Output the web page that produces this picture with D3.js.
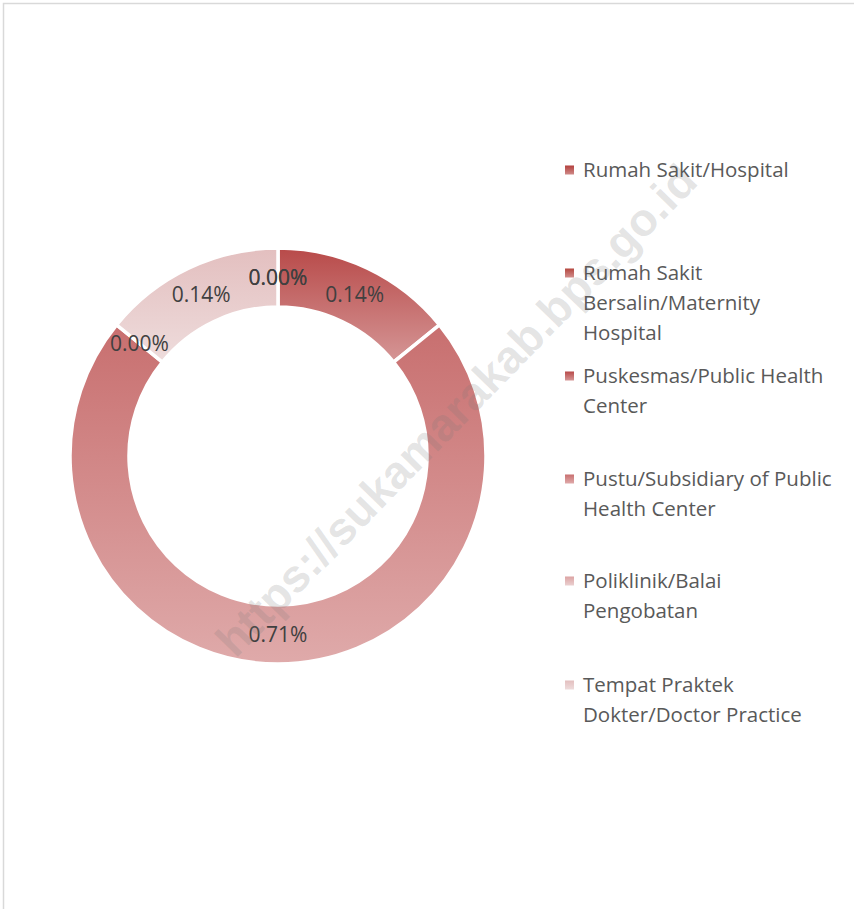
<!DOCTYPE html>
<html>
<head>
<meta charset="utf-8">
<script src="https://cdn.jsdelivr.net/npm/d3@7"></script>
<style>
  body { margin: 0; background: #fff; }
  svg { display: block; }
  text { font-family: "Open Sans", sans-serif; }
</style>
</head>
<body>
<svg id="chart" width="854" height="909"></svg>
<script>
// categories and their share (shown as % labels)
const categories = [
    ['Rumah Sakit/Hospital'],
    ['Rumah Sakit', 'Bersalin/Maternity', 'Hospital'],
    ['Puskesmas/Public Health', 'Center'],
    ['Pustu/Subsidiary of Public', 'Health Center'],
    ['Poliklinik/Balai', 'Pengobatan'],
    ['Tempat Praktek', 'Dokter/Doctor Practice']
];
const values = [0.00, 0.00, 0.14, 0.71, 0.00, 0.14];
const labels = ['0.00%', '0.00%', '0.14%', '0.71%', '0.00%', '0.14%'];

// gradient stops per slice (top -> bottom)
const topColors = ['#b3403d', '#b5473f', '#b84a49', '#c86f6f', '#dca3a3', '#e3bfbf'];
const bottomColors = ['#cf8a88', '#d18e8c', '#d59696', '#dfaaaa', '#ead0d0', '#eedcdc'];

const svg = d3.select('#chart');
const W = 854, H = 909;
const cx = 278, cy = 456, rOuter = 208, rInner = 149;

// chart frame (only top/left edges visible)
svg.append('path')
    .attr('d', `M 3.5 ${H} L 3.5 3.5 L ${W} 3.5`)
    .attr('fill', 'none')
    .attr('stroke', '#d9d9d9')
    .attr('stroke-width', 1.5);

const defs = svg.append('defs');
values.forEach((v, i) => {
    const g = defs.append('linearGradient')
        .attr('id', `grad${i}`)
        .attr('x1', 0).attr('y1', 0).attr('x2', 0).attr('y2', 1);
    g.append('stop').attr('offset', '0%').attr('stop-color', topColors[i]);
    g.append('stop').attr('offset', '100%').attr('stop-color', bottomColors[i]);
});

const pie = d3.pie().sort(null).value(d => d);
const arcs = pie(values);
const arc = d3.arc().innerRadius(rInner).outerRadius(rOuter);
const labelArc = d3.arc().innerRadius((rInner + rOuter) / 2).outerRadius((rInner + rOuter) / 2);

const gPie = svg.append('g').attr('transform', `translate(${cx},${cy})`);
gPie.selectAll('path.slice').data(arcs)
    .join('path')
    .attr('class', 'slice')
    .attr('d', arc)
    .attr('fill', (d, i) => `url(#grad${i})`)
    .attr('stroke', '#fff')
    .attr('stroke-width', d => d.value > 0 ? 3.5 : 0);

// watermark
svg.append('text')
    .attr('transform', 'translate(456,410) rotate(-45.7)')
    .attr('text-anchor', 'middle')
    .attr('dominant-baseline', 'central')
    .style('font-family', '"Liberation Sans", Arial, sans-serif')
    .style('font-weight', 'bold')
    .style('font-size', '46px')
    .attr('fill', 'rgba(120,120,120,0.2)')
    .text('https://sukamarakab.bps.go.id');

gPie.selectAll('text.lbl').data(arcs)
    .join('text')
    .attr('class', 'lbl')
    .attr('transform', d => `translate(${labelArc.centroid(d)})`)
    .attr('text-anchor', 'middle')
    .attr('dy', '0.36em')
    .style('font-size', '21px')
    .attr('fill', '#404040')
    .text((d, i) => labels[i]);

// legend
const legendTop = [170, 273, 376, 479, 581, 685];
const lineH = 30;
const legend = svg.append('g');
const items = legend.selectAll('g.item').data(categories)
    .join('g')
    .attr('class', 'item')
    .attr('transform', (d, i) => `translate(565,${legendTop[i]})`);
items.append('rect')
    .attr('x', 0).attr('y', -4.5)
    .attr('width', 9).attr('height', 9)
    .attr('fill', (d, i) => `url(#grad${i})`);
items.append('text')
    .style('font-size', '20.5px')
    .attr('fill', '#595959')
    .selectAll('tspan').data(d => d)
    .join('tspan')
    .attr('x', 18)
    .attr('y', (d, j) => j * lineH)
    .attr('dy', '0.36em')
    .text(d => d);
</script>
</body>
</html>
